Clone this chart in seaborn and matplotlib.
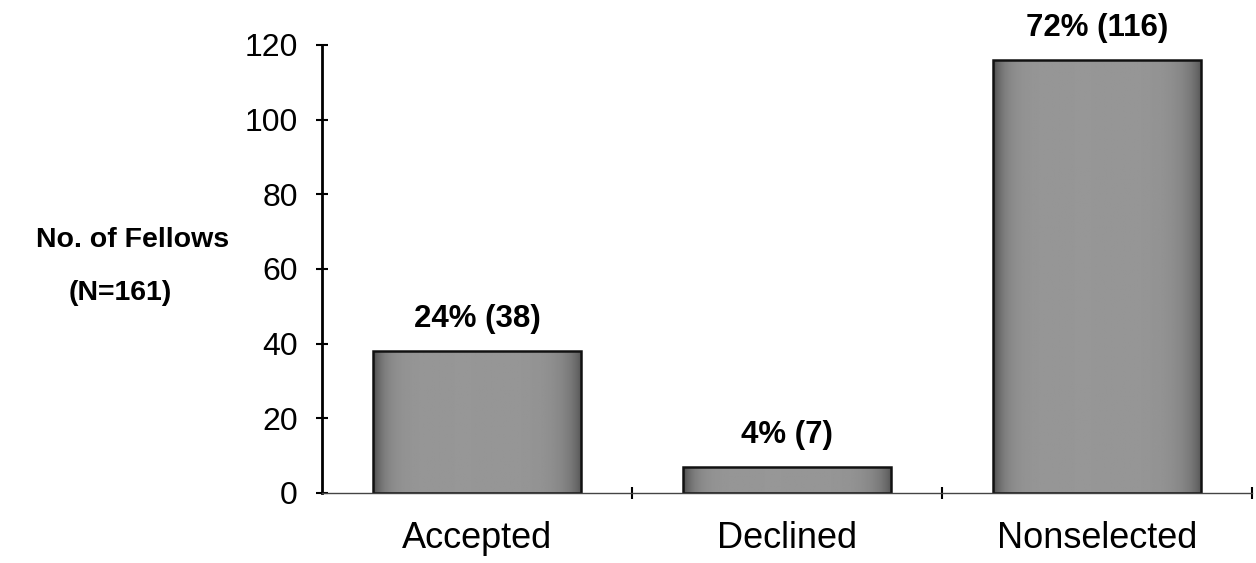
import numpy as np
import pandas as pd
import matplotlib
matplotlib.use("Agg")
import matplotlib.pyplot as plt
import seaborn as sns
from matplotlib.ticker import FixedLocator

# Fellowship outcome data
categories = ["Accepted", "Declined", "Nonselected"]
counts = [38, 7, 116]
percents = [24, 4, 72]
y_ticks = [0, 20, 40, 60, 80, 100, 120]
y_label_lines = ["No. of Fellows", "(N=161)"]

sns.set_theme(style="white")
plt.rcParams["font.family"] = ["Liberation Sans", "DejaVu Sans"]

df = pd.DataFrame({"category": categories, "count": counts})

W, H = 1256, 563
fig = plt.figure(figsize=(W / 100, H / 100), dpi=100)
ax = fig.add_axes([322 / W, 70 / H, 930 / W, 448 / H])

sns.barplot(data=df, x="category", y="count", color="#949494", width=0.67,
            saturation=1, edgecolor="#111111", linewidth=1.8, ax=ax)

# Shade each bar: darker toward the sides, lighter in the middle
t = np.linspace(0, 1, 300)
profile = 0.59 - 0.30 * np.exp(-t / 0.05) - 0.24 * np.exp(-(1 - t) / 0.07)
grad = np.tile(profile, (2, 1))
for patch in list(ax.patches):
    x0, w, h = patch.get_x(), patch.get_width(), patch.get_height()
    im = ax.imshow(grad, cmap="gray", vmin=0, vmax=1, aspect="auto",
                   extent=(x0, x0 + w, 0, h), interpolation="bilinear",
                   zorder=patch.get_zorder() - 0.01)
    im.set_clip_path(patch)
    patch.set_facecolor("none")

# Value labels above bars
for i, (c, p) in enumerate(zip(counts, percents)):
    ax.text(i, c + 6.4, f"{p}% ({c})", ha="center", va="baseline",
            fontsize=22.5, fontweight="bold", color="black")

ax.set_xlim(-0.5, 2.5)
ax.set_ylim(0, 120)
ax.set_yticks(y_ticks)
ax.set_xlabel("")
ax.set_ylabel("")
ax.grid(False)

for side in ("top", "right"):
    ax.spines[side].set_visible(False)
ax.spines["left"].set_color("black")
ax.spines["left"].set_linewidth(2)
ax.spines["bottom"].set_color("#444444")
ax.spines["bottom"].set_linewidth(1)

ax.xaxis.set_minor_locator(FixedLocator([0.5, 1.5, 2.5]))
ax.tick_params(axis="y", which="major", left=True, direction="inout",
               length=9, width=1.5, color="black", pad=13,
               labelsize=23, labelcolor="black")
ax.tick_params(axis="x", which="major", bottom=True, length=0, pad=20,
               labelsize=26, labelcolor="black")
ax.tick_params(axis="x", which="minor", bottom=True, direction="inout",
               length=9, width=1.5, color="black")

# Axis title placed horizontally to the left of the axis
fig.text(133 / W, 1 - 247 / H, y_label_lines[0], ha="center", va="baseline",
         fontsize=20.5, fontweight="bold", color="black")
fig.text(120 / W, 1 - 300 / H, y_label_lines[1], ha="center", va="baseline",
         fontsize=20.5, fontweight="bold", color="black")

fig.savefig("out.png", dpi=100)
